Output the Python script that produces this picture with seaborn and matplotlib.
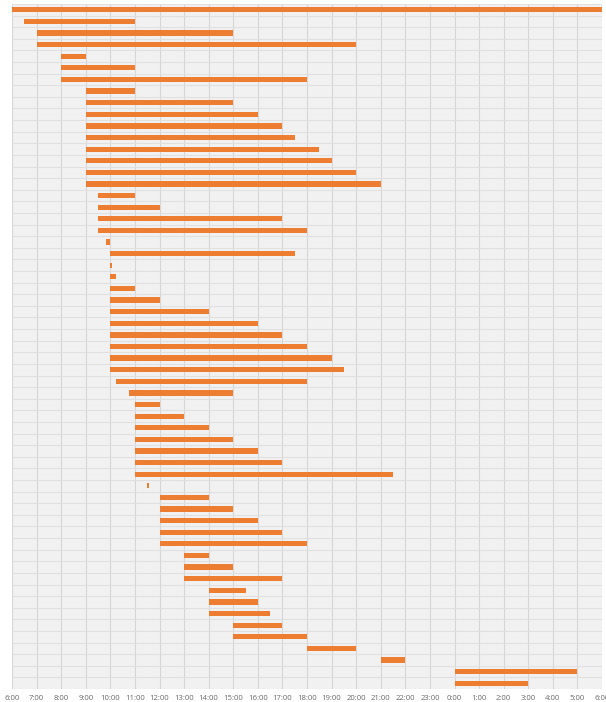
import matplotlib
matplotlib.use("Agg")
import matplotlib.pyplot as plt
import seaborn as sns
import pandas as pd
import numpy as np

# Start / end times in hours after 6:00 (so 0 = 6:00, 18 = 0:00 next day, 24 = 6:00 next day)
tasks = [f"T{i+1}" for i in range(59)]
start_h = [0, 0.5, 1, 1, 2, 2, 2, 3, 3, 3,
           3, 3, 3, 3, 3, 3, 3.5, 3.5, 3.5, 3.5,
           3.83, 4, 4, 4, 4, 4, 4, 4, 4, 4,
           4, 4, 4.25, 4.75, 5, 5, 5, 5, 5, 5,
           5, 5.5, 6, 6, 6, 6, 6, 7, 7, 7,
           8, 8, 8, 9, 9, 12, 15, 18, 18]
end_h = [24, 5, 9, 14, 3, 5, 12, 5, 9, 10,
         11, 11.5, 12.5, 13, 14, 15, 5, 6, 11, 12,
         4, 11.5, 4.08, 4.25, 5, 6, 8, 10, 11, 12,
         13, 13.5, 12, 9, 6, 7, 8, 9, 10, 11,
         15.5, 5.58, 8, 9, 10, 11, 12, 8, 9, 11,
         9.5, 10, 10.5, 11, 12, 14, 16, 23, 21]
tick_labels = [f"{(6 + h) % 24}:00" for h in range(25)]

df = pd.DataFrame({"task": tasks, "start": start_h, "end": end_h})
df["dur"] = df["end"] - df["start"]

sns.set_theme(style="white")
plt.rcParams["font.family"] = ["Open Sans", "DejaVu Sans"]

fig = plt.figure(figsize=(6.06, 7.02), dpi=100)
ax = fig.add_axes([12 / 606, 1 - 689 / 702, 590 / 606, 685 / 702])
ax.set_facecolor("#f1f1f1")

sns.barplot(data=df, y="task", x="dur", left=df["start"].values, color="#ED7D31",
            saturation=1, width=0.45, orient="h", ax=ax, zorder=3, linewidth=0)

ax.set_xlim(0, 24)
ax.set_ylim(len(tasks) - 0.5, -0.5)
ax.set_xticks(range(25))
ax.set_xticklabels(tick_labels, fontsize=5.6, color="#6b6b6b")
ax.set_yticks([])
ax.set_yticks(np.arange(-0.5, len(tasks), 1), minor=True)
ax.grid(True, axis="x", color="#d6d6d6", linewidth=0.8, zorder=0)
ax.grid(True, axis="y", which="minor", color="#e0e0e0", linewidth=0.8, zorder=0)
ax.set_axisbelow(True)
ax.set_xlabel("")
ax.set_ylabel("")
ax.tick_params(axis="x", length=0, pad=4)
ax.tick_params(axis="y", which="both", length=0)
for s in ax.spines.values():
    s.set_visible(False)

fig.savefig("out.png", dpi=100, facecolor="white")
